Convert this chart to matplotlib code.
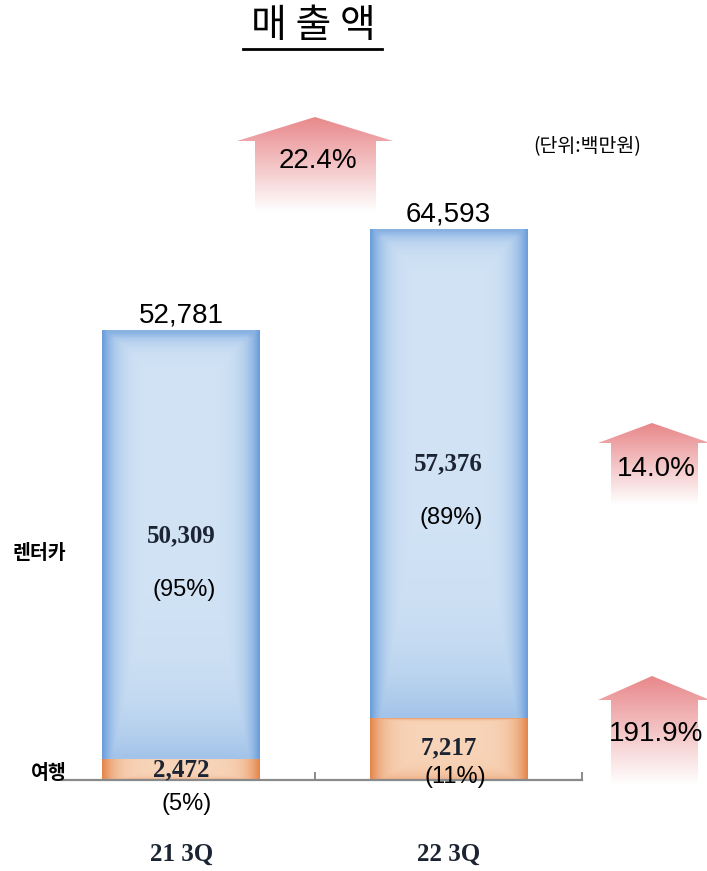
import numpy as np
import matplotlib.pyplot as plt
from matplotlib.patches import Polygon

# data (단위: 백만원)
quarters = ['21 3Q', '22 3Q']
rent = [50309, 57376]     # 렌터카
travel = [2472, 7217]     # 여행
rent_pct = ['(95%)', '(89%)']
travel_pct = ['(5%)', '(11%)']
growth = ['22.4%', '14.0%', '191.9%']   # 합계, 렌터카, 여행

totals = [r + t for r, t in zip(rent, travel)]

KR = ['Noto Sans CJK KR', 'DejaVu Sans']
SANS = 'Liberation Sans'
SERIF = 'Liberation Serif'
NAVY = '#1c2433'


def bar_gradient(light, dark, n=80):
    light = np.array(light)
    dark = np.array(dark)
    u = np.linspace(-1, 1, n)[None, :]
    v = np.linspace(0, 1, n)[:, None]
    fx = np.abs(u) ** 6
    ftop = 0.7 * np.exp(-v / 0.02)
    fbot = 0.45 * v ** 8
    f = np.clip(np.maximum(np.maximum(fx, ftop), fbot), 0, 1)
    f = np.broadcast_to(f, (n, n))[..., None]
    return light * (1 - f) + dark * f


def fill_bars(ax, bars, light, dark):
    img = bar_gradient(light, dark)
    for b in bars:
        x, y = b.get_x(), b.get_y()
        w, h = b.get_width(), b.get_height()
        im = ax.imshow(img, extent=[x, x + w, y, y + h], aspect='auto',
                       origin='upper', zorder=2, interpolation='bilinear')
        im.set_clip_path(b)
        b.set_facecolor('none')


fig = plt.figure(figsize=(7.07, 8.71), dpi=100)

# overlay in pixel coords for title, unit text and growth arrows
ov = fig.add_axes([0, 0, 1, 1], zorder=0)
ov.set_xlim(0, 707)
ov.set_ylim(871, 0)
ov.axis('off')

ax = fig.add_axes([62 / 707, 1 - 780 / 871, 520 / 707, 596.8 / 871], zorder=1)
ax.set_facecolor('none')

x = np.arange(len(quarters))
w = 0.59
b_travel = ax.bar(x, travel, w, color='none', edgecolor='none', zorder=2)
b_rent = ax.bar(x, rent, w, bottom=travel, color='none', edgecolor='none', zorder=2)
fill_bars(ax, b_rent, (0.82, 0.89, 0.96), (0.42, 0.62, 0.86))
fill_bars(ax, b_travel, (0.97, 0.83, 0.72), (0.90, 0.53, 0.30))

ax.set_xlim(-0.446, 1.5)
ax.set_ylim(0, 70000)

for s in ['top', 'right', 'left']:
    ax.spines[s].set_visible(False)
ax.spines['bottom'].set_color('#8a8a8a')
ax.spines['bottom'].set_linewidth(1.6)
ax.set_yticks([])
ax.set_xticks(x)
ax.set_xticklabels(quarters, fontfamily=SERIF, fontsize=18, fontweight='bold',
                   color=NAVY)
ax.tick_params(axis='x', which='major', length=0, pad=45)
ax.set_xticks([0.5, 1.5], minor=True)
ax.tick_params(axis='x', which='minor', direction='in', length=6, width=1.4,
               color='#8a8a8a')

# totals on top
for i, t in enumerate(totals):
    ax.annotate(f'{t:,}', (x[i], t), xytext=(0, 1), textcoords='offset points',
                ha='center', va='bottom', fontfamily=SANS, fontsize=20)

# segment labels
for i in range(len(quarters)):
    yv = travel[i] + rent[i] * 0.52
    ax.text(x[i], yv, f'{rent[i]:,}', ha='center', va='center',
            fontfamily=SERIF, fontsize=18, fontweight='bold', color=NAVY, zorder=3)
    ax.annotate(rent_pct[i], (x[i] + 0.01, yv), xytext=(0, -39),
                textcoords='offset points', ha='center', va='center',
                fontfamily=SANS, fontsize=17, zorder=3)
ax.text(x[0], travel[0] / 2, f'{travel[0]:,}', ha='center', va='center',
        fontfamily=SERIF, fontsize=18, fontweight='bold', color=NAVY, zorder=3)
ax.annotate(travel_pct[0], (x[0] + 0.02, travel[0] / 2), xytext=(0, -25),
            textcoords='offset points', ha='center', va='center',
            fontfamily=SANS, fontsize=17, annotation_clip=False, zorder=3)
ax.text(x[1], travel[1] / 2 + 150, f'{travel[1]:,}', ha='center', va='center',
        fontfamily=SERIF, fontsize=18, fontweight='bold', color=NAVY, zorder=3)
ax.annotate(travel_pct[1], (x[1] + 0.025, travel[1] / 2), xytext=(0, -20),
            textcoords='offset points', ha='center', va='center',
            fontfamily=SANS, fontsize=17, annotation_clip=False, zorder=3)

# series names on the left
ax.text(-0.43, travel[0] + rent[0] * 0.48, '렌터카', ha='right', va='center',
        fontfamily=KR, fontsize=14, fontweight='bold', clip_on=False)
ax.text(-0.43, 820, '여행', ha='right', va='center',
        fontfamily=KR, fontsize=14, fontweight='bold', clip_on=False)

# title and unit
ov.text(313, 26, '매 출 액', ha='center', va='center', fontfamily=KR,
        fontsize=28)
ov.plot([243, 382], [49, 49], color='black', lw=2)
ov.text(587, 147, '(단위:백만원)', ha='center', va='center', fontfamily=KR,
        fontsize=14)

# growth arrows
pink = np.array([0.91, 0.53, 0.54])
grad = np.linspace(0, 1, 100)[:, None, None]
arrow_img = pink * (1 - grad) + np.ones(3) * grad
arrow_img = np.broadcast_to(arrow_img, (100, 2, 3))

arrows = [
    # tip_x, tip_y, head_l, head_r, head_base, shaft_l, shaft_r, bottom, label_y
    (315, 117, 237, 393, 141, 255, 376, 212, 161),
    (652, 423, 598, 710, 443, 611, 698, 505, 469),
    (652, 676, 598, 710, 700, 611, 698, 785, 734),
]
for (tx, ty, hl, hr, hb, sl, sr, bot, ly), label in zip(arrows, growth):
    poly = Polygon([(tx, ty), (hr, hb), (sr, hb), (sr, bot), (sl, bot),
                    (sl, hb), (hl, hb)], closed=True, facecolor='none',
                   edgecolor='none')
    ov.add_patch(poly)
    im = ov.imshow(arrow_img, extent=[hl, hr, bot, ty], aspect='auto',
                   origin='upper', interpolation='bilinear')
    im.set_clip_path(poly)
    ov.text((sl + sr) / 2 + 2, ly, label, ha='center', va='center',
            fontfamily=SANS, fontsize=20)

ov.set_xlim(0, 707)
ov.set_ylim(871, 0)

fig.savefig('out.png', dpi=100)
